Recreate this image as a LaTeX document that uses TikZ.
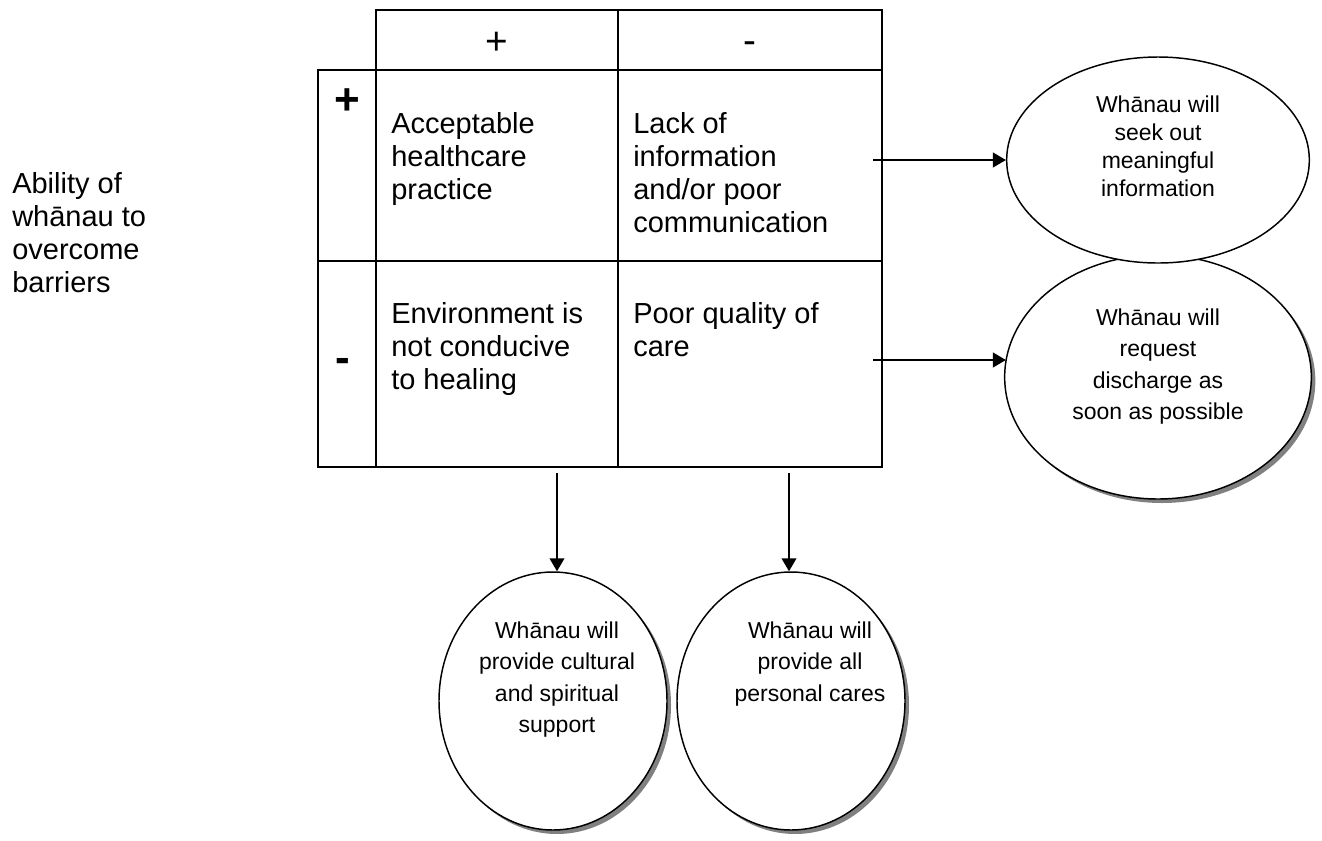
\documentclass[tikz,border=0pt]{standalone}
\usepackage{fontspec}
\setmainfont{Liberation Sans}
\usetikzlibrary{shapes.geometric,arrows.meta,shadows}
\begin{document}
\begin{tikzpicture}[x=0.75pt,y=-0.75pt,
  grid/.style={line width=1.9pt, line cap=rect},
  celltext/.style={anchor=north west, inner sep=0pt, align=left,
    font=\fontsize{21.75}{24.75}\selectfont},
  sign/.style={inner sep=0pt, font=\fontsize{29}{34}\selectfont},
  bigsign/.style={inner sep=0pt, font=\fontsize{33}{38}\selectfont\bfseries},
  bubble/.style={ellipse, draw, line width=1.1pt, fill=white, inner sep=0pt},
  shade/.style={drop shadow={shadow xshift=3pt, shadow yshift=-3pt, fill=gray, opacity=1}},
  bubbletext/.style={anchor=north, inner sep=0pt, align=center},
  arr/.style={line width=1.5pt, -{Triangle[length=9.75pt, width=11pt]}}
]
\useasboundingbox (0,0) rectangle (1322,840);

% grid of the table
\draw[grid] (376,10) -- (882,10);
\draw[grid] (318,70) -- (882,70);
\draw[grid] (318,261) -- (882,261);
\draw[grid] (318,467) -- (882,467);
\draw[grid] (318,70) -- (318,467);
\draw[grid] (376,10) -- (376,467);
\draw[grid] (618,10) -- (618,467);
\draw[grid] (882,10) -- (882,467);

% column and row signs
\node[sign] (hplus) at (497,43) {+};
\node[sign] (hminus) at (750,48) {-};
\node[bigsign] (vplus) at (347,102) {+};
\node[bigsign] (vminus) at (343,365) {-};

% row label
\node[celltext] (ability) at (12,170) {\strut Ability of\\wh\=anau to\\overcome\\barriers};

% cell contents
\node[celltext] (c11) at (391,110) {\strut Acceptable\\healthcare\\practice};
\node[celltext] (c12) at (633,110) {\strut Lack of\\information\\and/or poor\\communication};
\node[celltext] (c21) at (391,300) {\strut Environment is\\not conducive\\to healing};
\node[celltext] (c22) at (633,300) {\strut Poor quality of\\care};

% outcome bubbles
\node[bubble, shade, minimum width=230pt, minimum height=183pt] (e2) at (1158,377) {};
\node[bubble, minimum width=227pt, minimum height=154.5pt] (e1) at (1158,160) {};
\node[bubble, shade, minimum width=171pt, minimum height=193.5pt] (e3) at (553,701) {};
\node[bubble, shade, minimum width=171pt, minimum height=193.5pt] (e4) at (791,701) {};

\node[bubbletext, font=\fontsize{17.25}{21}\selectfont] (t1) at (1158,93)
  {\strut Wh\=anau will\\seek out\\meaningful\\information};
\node[bubbletext, font=\fontsize{17.25}{23.6}\selectfont] (t2) at (1158,303)
  {\strut Wh\=anau will\\request\\discharge as\\soon as possible};
\node[bubbletext, font=\fontsize{17.25}{23.6}\selectfont] (t3) at (557,616)
  {\strut Wh\=anau will\\provide cultural\\and spiritual\\support};
\node[bubbletext, font=\fontsize{17.25}{23.6}\selectfont] (t4) at (810,616)
  {\strut Wh\=anau will\\provide all\\personal cares};

% connectors
\coordinate (a1) at (873,160);
\coordinate (a2) at (873,360);
\coordinate (a3) at (557,473);
\coordinate (a4) at (789,473);
\draw[arr] (a1) -- (a1 -| e1.west);
\draw[arr] (a2) -- ([xshift=1.5pt]a2 -| e2.west);
\draw[arr] (a3) -- (a3 |- e3.north);
\draw[arr] (a4) -- (a4 |- e4.north);
\end{tikzpicture}
\end{document}
